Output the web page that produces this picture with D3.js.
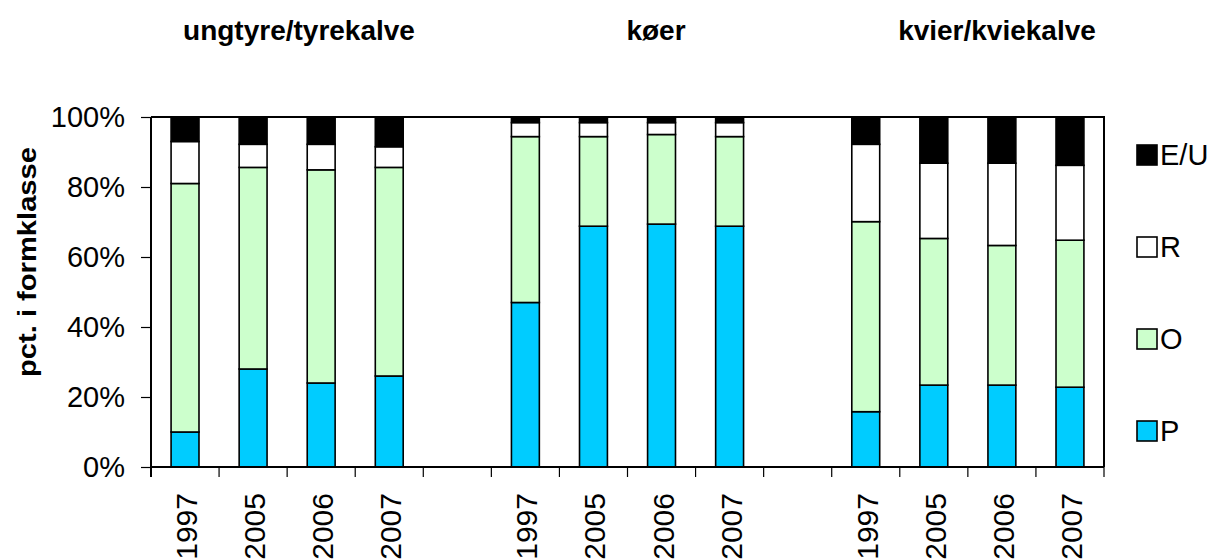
<!DOCTYPE html>
<html>
<head>
<meta charset="utf-8">
<script src="https://cdn.jsdelivr.net/npm/d3@7"></script>
<style>
  body { margin: 0; background: #fff; }
  svg { display: block; font-family: "Liberation Sans", Arial, sans-serif; }
</style>
</head>
<body>
<svg id="chart" width="1219" height="560"></svg>
<script>
// data (percent per formklasse)
const groups = ["ungtyre/tyrekalve", "køer", "kvier/kviekalve"];
const years = ["1997", "2005", "2006", "2007"];
const classes = ["P", "O", "R", "E/U"];
const valuesP  = [10, 28, 24, 26,   47, 68.8, 69.4, 68.8,   15.8, 23.4, 23.4, 22.8];
const valuesO  = [71, 57.6, 60.9, 59.6,   47.4, 25.6, 25.6, 25.6,   54.3, 41.9, 39.9, 42];
const valuesR  = [12, 6.6, 7.3, 5.9,   4, 4, 3.4, 4,   22.1, 21.5, 23.5, 21.4];
const valuesEU = [7, 7.8, 7.8, 8.5,   1.6, 1.6, 1.6, 1.6,   7.8, 13.2, 13.2, 13.8];
const yTicks = [0, 20, 40, 60, 80, 100];

const colors = { "P": "#00ccff", "O": "#ccffcc", "R": "#ffffff", "E/U": "#000000" };

const layout = { left: 151, right: 1104, top: 117, bottom: 467 };
const svg = d3.select("#chart");

// build slots: 4 years per group, one empty slot between groups
let slots = [];
let rows = [];
groups.forEach(function(g, gi) {
    years.forEach(function(y, yi) {
        let key = gi + "_" + y;
        slots.push(key);
        let i = gi * years.length + yi;
        rows.push({ key: key, year: y, "P": valuesP[i], "O": valuesO[i], "R": valuesR[i], "E/U": valuesEU[i] });
    });
    if (gi < groups.length - 1) slots.push("gap" + gi);
});

const x = d3.scaleBand().domain(slots).range([layout.left, layout.right]).padding(0);
const y = d3.scaleLinear().domain([0, 100]).range([layout.bottom, layout.top]);
const barW = x.bandwidth() * 0.41;

// frame: top and right border
svg.append("path")
    .attr("d", "M" + layout.left + "," + layout.top + "H" + layout.right + "V" + layout.bottom)
    .attr("fill", "none").attr("stroke", "#000").attr("stroke-width", 2);

// stacked bars
const stack = d3.stack().keys(classes)(rows);
svg.append("g").selectAll("g").data(stack).enter().append("g")
    .attr("fill", function(d) { return colors[d.key]; })
    .selectAll("rect").data(function(d) { return d; }).enter().append("rect")
    .attr("x", function(d) { return x(d.data.key) + (x.bandwidth() - barW) / 2; })
    .attr("y", function(d) { return y(d[1]); })
    .attr("width", barW)
    .attr("height", function(d) { return y(d[0]) - y(d[1]); })
    .attr("stroke", "#000")
    .attr("stroke-width", 1.6);

// y axis
const leftAxis = d3.axisLeft(y).tickValues(yTicks).tickFormat(function(d) { return d + "%"; }).tickSize(10).tickPadding(16);
const ya = svg.append("g").attr("transform", "translate(" + layout.left + ",0)").call(leftAxis);
ya.select(".domain").attr("stroke-width", 2).attr("d", "M0," + layout.top + "V" + (layout.bottom + 10));
ya.selectAll(".tick line").attr("stroke-width", 1.2);
ya.selectAll("text").attr("font-size", 29).attr("fill", "#000").attr("font-family", "Liberation Sans, Arial, sans-serif");

// x axis: ticks at every slot boundary
const boundaries = slots.map(function(s) { return x(s); }).concat([layout.right]);
const xa = svg.append("g");
xa.append("line").attr("x1", layout.left).attr("x2", layout.right)
    .attr("y1", layout.bottom).attr("y2", layout.bottom)
    .attr("stroke", "#000").attr("stroke-width", 2);
xa.selectAll(".xtick").data(boundaries).enter().append("line")
    .attr("class", "xtick")
    .attr("x1", function(d) { return d; }).attr("x2", function(d) { return d; })
    .attr("y1", layout.bottom).attr("y2", layout.bottom + 10)
    .attr("stroke", "#000").attr("stroke-width", 1.2);
xa.selectAll(".xlabel").data(rows).enter().append("text")
    .attr("class", "xlabel")
    .attr("transform", function(d) { return "translate(" + (x(d.key) + x.bandwidth() / 2 + 12) + "," + (layout.bottom + 26) + ") rotate(-90)"; })
    .attr("text-anchor", "end")
    .attr("font-size", 30)
    .text(function(d) { return d.year; });

// y title
svg.append("text")
    .attr("transform", "translate(36,262) rotate(-90)")
    .attr("text-anchor", "middle")
    .attr("font-size", 25)
    .attr("font-weight", "bold")
    .attr("textLength", 230).attr("lengthAdjust", "spacingAndGlyphs")
    .text("pct. i formklasse");

// group titles
const titleX = [299, 656, 997];
svg.selectAll(".gtitle").data(groups).enter().append("text")
    .attr("class", "gtitle")
    .attr("x", function(d, i) { return titleX[i]; })
    .attr("y", 40)
    .attr("text-anchor", "middle")
    .attr("font-size", 28)
    .attr("font-weight", "bold")
    .text(function(d) { return d; });

// legend, top to bottom E/U, R, O, P
const legendKeys = classes.slice().reverse();
const lg = svg.selectAll(".legend").data(legendKeys).enter().append("g")
    .attr("class", "legend")
    .attr("transform", function(d, i) { return "translate(1137," + (145 + i * 92) + ")"; });
lg.append("rect").attr("width", 20).attr("height", 20)
    .attr("fill", function(d) { return colors[d]; })
    .attr("stroke", "#000").attr("stroke-width", 1.6);
lg.append("text").attr("x", 23).attr("y", 20).attr("font-size", 29)
    .text(function(d) { return d; });
</script>
</body>
</html>
